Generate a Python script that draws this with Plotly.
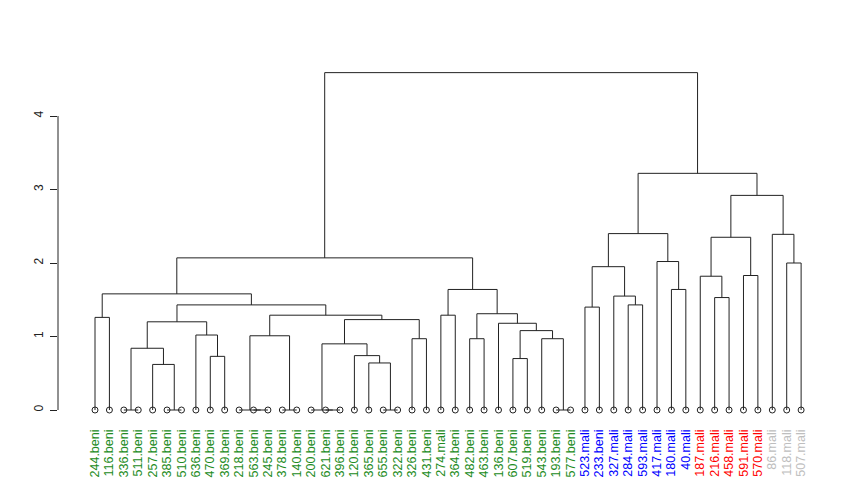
import plotly.graph_objects as go

# Leaf labels in display order
leaf_labels = [
    "244.beni", "116.beni", "336.beni", "511.beni", "257.beni", "385.beni", "510.beni",
    "636.beni", "470.beni", "369.beni", "218.beni", "563.beni", "245.beni", "378.beni",
    "140.beni", "200.beni", "621.beni", "396.beni", "120.beni", "365.beni", "655.beni",
    "322.beni", "326.beni", "431.beni", "274.mali", "364.beni", "482.beni", "463.beni",
    "136.beni", "607.beni", "519.beni", "543.beni", "193.beni", "577.beni",
    "523.mali", "233.beni", "327.mali", "284.mali", "593.mali", "417.mali", "180.mali", "40.mali",
    "187.mali", "216.mali", "458.mali", "591.mali", "570.mali",
    "86.mali", "118.mali", "507.mali",
]
leaf_groups = [1] * 34 + [2] * 8 + [3] * 5 + [4] * 3
group_colors = {1: "#228B22", 2: "#0000FF", 3: "#FF0000", 4: "#BEBEBE"}

# hclust-style merge table: negative = leaf (1-based display position), positive = earlier merge (1-based)
merge_left = [-3, -6, -12, -11, -14, -17, -16, -21, -33, -5,
              -20, -30, -9, -19, 1, 7, -23, -27, -32, 4,
              -8, 12, -29, 15, 16, -1, 20, -25, 18, -35,
              24, -38, -44, -37, 26, 28, -41, -43, -46, 30,
              -49, -40, 35, 38, -48, 40, 44, 46, 43]
merge_right = [-4, -7, -13, 3, -15, -18, 6, -22, -34, 2,
               8, -31, -10, 11, 10, 14, -24, -28, 9, 5,
               13, 19, 22, 21, 17, -2, 25, -26, 23, -36,
               27, -39, -45, 32, 31, 29, -42, 33, -47, 34,
               -50, 37, 36, 39, 41, 42, 45, 47, 48]
merge_height = [0, 0, 0, 0, 0, 0, 0, 0, 0, 0.62,
                0.64, 0.70, 0.73, 0.74, 0.84, 0.90, 0.97, 0.97, 0.97, 1.01,
                1.02, 1.08, 1.18, 1.20, 1.23, 1.26, 1.29, 1.29, 1.31, 1.40,
                1.43, 1.43, 1.53, 1.55, 1.58, 1.64, 1.64, 1.82, 1.83, 1.95,
                2.00, 2.02, 2.07, 2.35, 2.39, 2.40, 2.92, 3.22, 4.59]

y_ticks = [0, 1, 2, 3, 4]

# compute node positions
node_x, node_h = [], []
def pos(ref):
    if ref < 0:
        return (-ref - 1, 0.0)
    return (node_x[ref - 1], node_h[ref - 1])

lx, ly = [], []
for l, r, h in zip(merge_left, merge_right, merge_height):
    xl, hl = pos(l)
    xr, hr = pos(r)
    lx += [xl, xl, xr, xr, None]
    ly += [hl, h, h, hr, None]
    node_x.append((xl + xr) / 2)
    node_h.append(h)

n = len(leaf_labels)
leaf_x = list(range(n))

fig = go.Figure()
fig.add_trace(go.Scatter(x=lx, y=ly, mode="lines", line=dict(color="#222222", width=1),
                         hoverinfo="skip", showlegend=False, cliponaxis=False))
fig.add_trace(go.Scatter(x=leaf_x, y=[0] * n, mode="markers",
                         marker=dict(symbol="circle-open", size=6, color="#222222", line=dict(width=1)),
                         showlegend=False, cliponaxis=False))

ticktext = [f"<span style='color:{group_colors[g]}'>{t}</span>" for t, g in zip(leaf_labels, leaf_groups)]

fig.update_layout(
    width=860, height=489,
    margin=dict(l=50, r=48, t=32, b=77),
    plot_bgcolor="white", paper_bgcolor="white",
    font=dict(family="Liberation Sans, Arial, sans-serif", color="#222222"),
    xaxis=dict(range=[-2.568, 50.31], tickmode="array", tickvals=leaf_x, ticktext=ticktext,
               tickangle=-90, showgrid=False, zeroline=False, showline=False, ticks="",
               tickfont=dict(size=12.5), ticklabelstandoff=6),
    yaxis=dict(range=[-0.136, 5.034], tickmode="array", tickvals=y_ticks,
               ticktext=[str(v) for v in y_ticks], tickangle=-90,
               showgrid=False, zeroline=False, showline=False, ticks="outside", ticklen=7,
               tickcolor="#222222", tickwidth=1, tickfont=dict(size=12), ticklabelstandoff=2),
    shapes=[dict(type="line", xref="paper", x0=0, x1=0, yref="y", y0=y_ticks[0], y1=y_ticks[-1],
                 line=dict(color="#222222", width=1))],
)

fig.write_html("out.html")
